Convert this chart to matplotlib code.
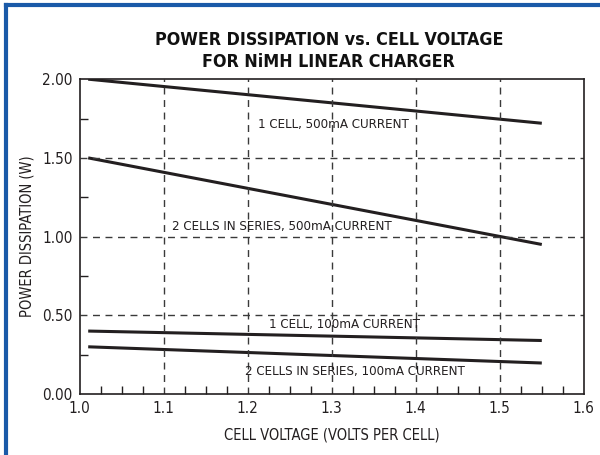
import matplotlib
matplotlib.use("Agg")
import matplotlib.pyplot as plt
from matplotlib.lines import Line2D
from matplotlib.ticker import MultipleLocator

plt.rcParams['font.family'] = ['DejaVu Sans']
plt.rcParams['font.stretch'] = 'condensed'

# cell voltage (V per cell) at the ends of each curve
volts = [1.01, 1.55]
one_cell_500 = [2.00, 1.72]
two_cell_500 = [1.50, 0.95]
one_cell_100 = [0.40, 0.34]
two_cell_100 = [0.30, 0.197]

labels = ['1 CELL, 500mA CURRENT', '2 CELLS IN SERIES, 500mA CURRENT',
          '1 CELL, 100mA CURRENT', '2 CELLS IN SERIES, 100mA CURRENT']
label_pos = [(1.302, 1.71), (1.24, 1.067), (1.315, 0.44), (1.327, 0.146)]

fig = plt.figure(figsize=(6, 4.55), dpi=100)
ax = fig.add_axes([0.133, 0.134, 0.84, 0.692])

for y in [one_cell_500, two_cell_500, one_cell_100, two_cell_100]:
    ax.plot(volts, y, color='#231f20', lw=2.2, solid_capstyle='butt')

for (x, y), s in zip(label_pos, labels):
    ax.text(x, y, s, ha='center', va='center', fontsize=9.5, color='#231f20')

ax.set_xlim(1.0, 1.6)
ax.set_ylim(0, 2.0)
ax.set_xticks([1.0, 1.1, 1.2, 1.3, 1.4, 1.5, 1.6])
ax.set_xticklabels(['1.0', '1.1', '1.2', '1.3', '1.4', '1.5', '1.6'])
ax.set_yticks([0, 0.5, 1.0, 1.5, 2.0])
ax.set_yticklabels(['0.00', '0.50', '1.00', '1.50', '2.00'])
ax.xaxis.set_minor_locator(MultipleLocator(0.025))
ax.yaxis.set_minor_locator(MultipleLocator(0.25))
ax.tick_params(which='major', length=0, labelsize=11, pad=5, colors='#231f20')
ax.tick_params(which='minor', direction='in', length=6, width=1, color='#231f20')

for xv in [1.1, 1.2, 1.3, 1.4, 1.5]:
    ax.axvline(xv, color='#3a3a3a', lw=1, ls=(0, (5, 4)))
for yv in [0.5, 1.0, 1.5]:
    ax.axhline(yv, color='#3a3a3a', lw=1, ls=(0, (5, 4)))

for sp in ax.spines.values():
    sp.set_color('#231f20')
    sp.set_linewidth(1.2)

ax.set_xlabel('CELL VOLTAGE (VOLTS PER CELL)', fontsize=10.5, color='#231f20', labelpad=8)
ax.set_ylabel('POWER DISSIPATION (W)', fontsize=10.5, color='#231f20', labelpad=6)

fig.text(0.548, 0.912, 'POWER DISSIPATION vs. CELL VOLTAGE', ha='center', va='center',
         fontsize=12.8, fontweight='bold', color='#111111')
fig.text(0.548, 0.864, 'FOR NiMH LINEAR CHARGER', ha='center', va='center',
         fontsize=12.8, fontweight='bold', color='#111111')

# blue frame edges (top and left)
fig.add_artist(Line2D([0.01, 1.0], [0.988, 0.988], color='#1a5aa8', lw=3, transform=fig.transFigure))
fig.add_artist(Line2D([0.01, 0.01], [0.0, 0.988], color='#1a5aa8', lw=3, transform=fig.transFigure))

fig.savefig('out.png', dpi=100)
